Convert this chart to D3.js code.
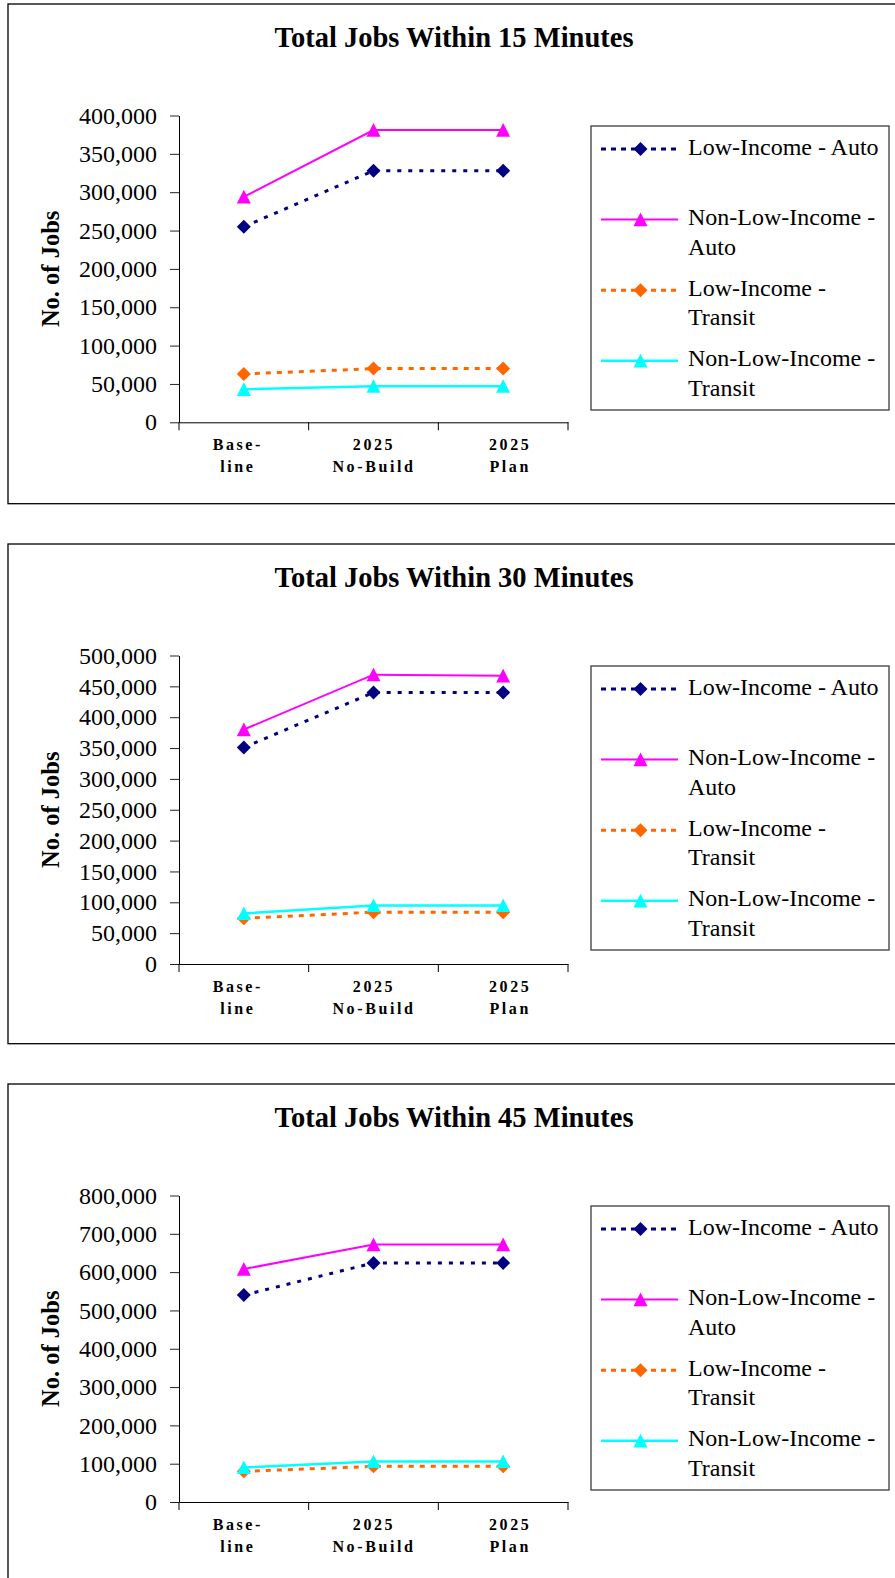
<!DOCTYPE html>
<html>
<head>
<meta charset="utf-8">
<script src="https://cdn.jsdelivr.net/npm/d3@7"></script>
<style>
  html, body { margin: 0; padding: 0; background: #fff; }
  svg { display: block; }
  text { font-family: "Liberation Serif", "Times New Roman", serif; fill: #000; }
</style>
</head>
<body>
<svg id="chart" width="895" height="1578"></svg>
<script>
// ---- data ----
const categories = ["Baseline", "2025 No-Build", "2025 Plan"];
const categoryLabels = [["Base-", "line"], ["2025", "No-Build"], ["2025", "Plan"]];
const seriesNames = [
  "Low-Income - Auto",
  "Non-Low-Income - Auto",
  "Low-Income - Transit",
  "Non-Low-Income - Transit"
];
const legendLabels = [
  ["Low-Income - Auto"],
  ["Non-Low-Income -", "Auto"],
  ["Low-Income -", "Transit"],
  ["Non-Low-Income -", "Transit"]
];
const panelTitles = [
  "Total Jobs Within 15 Minutes",
  "Total Jobs Within 30 Minutes",
  "Total Jobs Within 45 Minutes"
];
const yAxisTitle = "No. of Jobs";

// jobs reachable within 15 minutes
const lowIncomeAuto15 = [255000, 328000, 328000];
const nonLowIncomeAuto15 = [294000, 381000, 381000];
const lowIncomeTransit15 = [63000, 70000, 70000];
const nonLowIncomeTransit15 = [43000, 47000, 47000];

// jobs reachable within 30 minutes
const lowIncomeAuto30 = [351000, 440000, 440000];
const nonLowIncomeAuto30 = [380000, 469000, 467000];
const lowIncomeTransit30 = [74000, 84000, 84000];
const nonLowIncomeTransit30 = [82000, 95000, 95000];

// jobs reachable within 45 minutes
const lowIncomeAuto45 = [540000, 624000, 624000];
const nonLowIncomeAuto45 = [608000, 672000, 672000];
const lowIncomeTransit45 = [80000, 93000, 93000];
const nonLowIncomeTransit45 = [90000, 106000, 106000];

const yMaxima = [400000, 500000, 800000];
const yTickSteps = [50000, 50000, 100000];

const panelSeries = [
  [lowIncomeAuto15, nonLowIncomeAuto15, lowIncomeTransit15, nonLowIncomeTransit15],
  [lowIncomeAuto30, nonLowIncomeAuto30, lowIncomeTransit30, nonLowIncomeTransit30],
  [lowIncomeAuto45, nonLowIncomeAuto45, lowIncomeTransit45, nonLowIncomeTransit45]
];

// ---- styles & layout ----
const seriesStyles = [
  { color: "#000080", width: 3,   dash: "4,7", marker: "diamond" },
  { color: "#FF00FF", width: 2,   dash: null,  marker: "triangle" },
  { color: "#FF6600", width: 3,   dash: "5,6", marker: "diamond" },
  { color: "#00FFFF", width: 2.5, dash: null,  marker: "triangle" }
];

const panelOffsets = [0, 540, 1080];
const plotTop = 115.5;
const plotBottoms = [422.3, 424, 422];
const plotLeft = 179, plotRight = 568;

const markerPaths = {
  diamond: "M0,-7L7,0L0,7L-7,0Z",
  triangle: "M0,-7L7,6.6L-7,6.6Z"
};

const svg = d3.select("#chart");

panelTitles.forEach((title, p) => {
  const g = svg.append("g").attr("transform", `translate(0,${panelOffsets[p]})`);

  // outer frame
  g.append("rect")
    .attr("x", 8).attr("y", 4)
    .attr("width", 900).attr("height", 499.7)
    .attr("fill", "#fff").attr("stroke", "#000").attr("stroke-width", 1.3);

  // title
  g.append("text")
    .attr("x", 454).attr("y", 47)
    .attr("text-anchor", "middle")
    .style("font-size", "28.5px").style("font-weight", "bold")
    .text(title);

  const x = d3.scaleBand().domain(categories).range([plotLeft, plotRight]);
  const cx = c => x(c) + x.bandwidth() / 2;
  const y = d3.scaleLinear().domain([0, yMaxima[p]]).range([plotBottoms[p], plotTop]);

  // y axis
  const yAxis = d3.axisLeft(y)
    .tickValues(d3.range(0, yMaxima[p] + 1, yTickSteps[p]))
    .tickFormat(d3.format(","))
    .tickSize(9).tickSizeOuter(0).tickPadding(13);
  const ya = g.append("g").attr("transform", `translate(${plotLeft},0)`).call(yAxis);
  ya.select(".domain").attr("stroke", "#000");
  ya.selectAll(".tick line").attr("stroke", "#222");
  ya.selectAll(".tick text")
    .style("font-family", "'Liberation Serif','Times New Roman',serif")
    .style("font-size", "24px").attr("fill", "#000");

  // y axis title
  g.append("text")
    .attr("transform", `translate(59,${(plotTop + plotBottoms[p]) / 2}) rotate(-90)`)
    .attr("text-anchor", "middle")
    .style("font-size", "24.5px").style("font-weight", "bold")
    .text(yAxisTitle);

  // x axis line with tick marks on category boundaries
  const xa = g.append("g").attr("transform", `translate(0,${plotBottoms[p]})`)
    .call(d3.axisBottom(x).tickSize(0).tickSizeOuter(0).tickFormat(""));
  xa.select(".domain").attr("stroke", "#000");
  const boundaries = categories.map(c => x(c)).concat([x.range()[1]]);
  g.selectAll(".xtick").data(boundaries).join("line")
    .attr("class", "xtick")
    .attr("x1", d => d).attr("x2", d => d)
    .attr("y1", plotBottoms[p]).attr("y2", plotBottoms[p] + 8)
    .attr("stroke", "#000");

  // category labels (two lines, spaced letters)
  const labelX = d3.scalePoint().domain(categories)
    .range([cx(categories[0]) - 6, cx(categories[categories.length - 1]) + 7]);
  categories.forEach((c, i) => {
    const t = g.append("text")
      .attr("text-anchor", "middle")
      .style("font-size", "16px").style("font-weight", "bold")
      .style("letter-spacing", "2.6px");
    categoryLabels[i].forEach((line, k) => {
      t.append("tspan")
        .attr("x", labelX(c))
        .attr("y", plotBottoms[p] + 28 + k * 21.7)
        .text(line);
    });
  });

  // series lines and markers
  const lineGen = d3.line().x((d, i) => cx(categories[i])).y(d => y(d));
  panelSeries[p].forEach((values, s) => {
    const st = seriesStyles[s];
    g.append("path")
      .datum(values)
      .attr("d", lineGen)
      .attr("fill", "none")
      .attr("stroke", st.color)
      .attr("stroke-width", st.width)
      .attr("stroke-dasharray", st.dash);
    g.selectAll(null).data(values).join("path")
      .attr("transform", (d, i) => `translate(${cx(categories[i])},${y(d)})`)
      .attr("d", markerPaths[st.marker])
      .attr("fill", st.color);
  });

  // legend
  const lg = g.append("g").attr("transform", "translate(591,126)");
  lg.append("rect")
    .attr("width", 298).attr("height", 284)
    .attr("fill", "#fff").attr("stroke", "#555").attr("stroke-width", 1.5);
  seriesNames.forEach((name, s) => {
    const st = seriesStyles[s];
    const my = 23 + s * 70.6;
    lg.append("line")
      .attr("x1", 10).attr("x2", 87).attr("y1", my).attr("y2", my)
      .attr("stroke", st.color)
      .attr("stroke-width", st.width)
      .attr("stroke-dasharray", st.dash ? "5,5" : null);
    lg.append("path")
      .attr("transform", `translate(49.5,${my})`)
      .attr("d", markerPaths[st.marker])
      .attr("fill", st.color);
    const t = lg.append("text").style("font-size", "24px");
    legendLabels[s].forEach((line, k) => {
      t.append("tspan").attr("x", 97).attr("y", my + 5.5 + k * 29.5).text(line);
    });
  });
});
</script>
</body>
</html>
